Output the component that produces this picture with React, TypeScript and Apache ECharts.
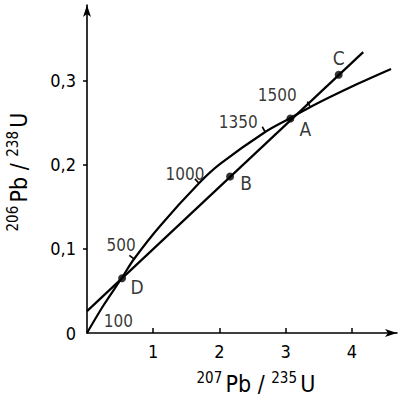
import React, { useEffect, useRef } from "react";
import * as echarts from "echarts";

// ---- data ----
const xTicks = [1, 2, 3, 4];
const yTicks = [0.1, 0.2, 0.3];
const yLabelValues = [0, 0.1, 0.2, 0.3];

// concordia curve (207Pb/235U, 206Pb/238U)
const concordia: number[][] = [
  [0, 0],
  [0.25, 0.033],
  [0.53, 0.066],
  [0.71, 0.088],
  [1.1, 0.127],
  [1.69, 0.178],
  [2.01, 0.201],
  [2.69, 0.239],
  [3.08, 0.256],
  [3.4, 0.27],
  [4.08, 0.296],
  [4.59, 0.314],
];

// discordia line end points
const discordia: number[][] = [
  [0, 0.026],
  [4.17, 0.334],
];

// sample points
const pointNames = ["D", "B", "A", "C"];
const pointX = [0.53, 2.16, 3.07, 3.8];
const pointY = [0.065, 0.186, 0.255, 0.307];

// age marks on the concordia (Ma)
const ageNames = ["100", "500", "1000", "1350", "1500"];
const ageX = [0.11, 0.71, 1.69, 2.69, 3.37];
const ageY = [0.014, 0.088, 0.178, 0.239, 0.269];
const ageHasTick = [false, true, true, true, true];

const FONT = '"Liberation Sans Narrow", "DejaVu Sans Condensed", "Roboto", sans-serif';
const INK = "#000";

// label offsets from the top of the mark
const pointLabelOffset: Record<string, number[]> = {
  D: [15, 13],
  B: [16, 10],
  A: [15, 14],
  C: [0, -13],
};
const ageLabelOffset: Record<string, number[]> = {
  "100": [24, 0],
  "500": [-13, -14],
  "1000": [-14, -9],
  "1350": [-27, -10],
  "1500": [-33, -12],
};

export default function App() {
  const ref = useRef<HTMLDivElement>(null);
  useEffect(() => {
    if (!ref.current) return;
    const chart = echarts.init(ref.current, undefined, { renderer: "svg" });

    const supRich = {
      s: { fontSize: 15, fontFamily: FONT, color: INK, verticalAlign: "top", lineHeight: 28 },
      m: { fontSize: 23, fontFamily: FONT, color: INK, lineHeight: 28 },
    };

    const labelBase = {
      show: true,
      position: "top",
      distance: 0,
      align: "center",
      verticalAlign: "middle",
      formatter: (p: any) => p.name,
      color: INK,
      fontFamily: FONT,
    };

    chart.setOption({
      animation: false,
      backgroundColor: "#fff",
      grid: { left: 87, right: 3, top: 5, bottom: 66 },
      xAxis: {
        type: "value",
        min: 0,
        max: 4.68,
        axisLine: {
          show: true,
          symbol: ["none", "arrow"],
          symbolSize: [6, 12],
          lineStyle: { color: INK, width: 1.6 },
        },
        axisTick: {
          show: true,
          inside: true,
          length: 5,
          customValues: xTicks,
          lineStyle: { color: INK, width: 1.5 },
        },
        axisLabel: {
          show: true,
          customValues: xTicks,
          margin: 9,
          color: INK,
          fontSize: 18,
          fontFamily: FONT,
          formatter: (v: number) => String(v),
        },
        splitLine: { show: false },
      },
      yAxis: {
        type: "value",
        min: 0,
        max: 0.39,
        axisLine: {
          show: true,
          symbol: ["none", "arrow"],
          symbolSize: [6, 12],
          lineStyle: { color: INK, width: 1.6 },
        },
        axisTick: {
          show: true,
          inside: false,
          length: 4,
          customValues: yTicks,
          lineStyle: { color: INK, width: 1.5 },
        },
        axisLabel: {
          show: true,
          customValues: yLabelValues,
          margin: 11,
          color: INK,
          fontSize: 18,
          fontFamily: FONT,
          formatter: (v: number) => (v === 0 ? "0" : v.toFixed(1).replace(".", ",")),
        },
        splitLine: { show: false },
      },
      graphic: [
        {
          type: "text",
          x: 256,
          y: 384,
          style: {
            text: "{s|207} {m|Pb / }{s|235} {m|U}",
            rich: supRich,
            align: "center",
            verticalAlign: "middle",
          },
        },
        {
          type: "text",
          x: 19,
          y: 172,
          rotation: Math.PI / 2,
          style: {
            text: "{s|206} {m|Pb / }{s|238} {m|U}",
            rich: supRich,
            align: "center",
            verticalAlign: "middle",
          },
        },
      ],
      series: [
        {
          type: "line",
          data: concordia,
          smooth: 0.35,
          showSymbol: false,
          symbol: "none",
          lineStyle: { color: INK, width: 2.2 },
          z: 3,
        },
        {
          type: "line",
          data: discordia,
          showSymbol: false,
          symbol: "none",
          lineStyle: { color: INK, width: 2.2 },
          z: 3,
        },
        {
          type: "custom",
          data: ageX.map((x, i) => [x, ageY[i], ageHasTick[i] ? 1 : 0]),
          renderItem: (params: any, api: any) => {
            const x = api.value(0);
            const y = api.value(1);
            const show = api.value(2);
            if (!show) return null;
            const p = api.coord([x, y]);
            let i = concordia.findIndex((pt) => pt[0] > x);
            if (i < 1) i = 1;
            const a = api.coord(concordia[i - 1]);
            const b = api.coord(concordia[i]);
            let dx = b[0] - a[0];
            let dy = b[1] - a[1];
            const L = Math.hypot(dx, dy) || 1;
            dx /= L;
            dy /= L;
            const len = 6;
            return {
              type: "line",
              shape: { x1: p[0], y1: p[1], x2: p[0] + dy * len, y2: p[1] - dx * len },
              style: { stroke: INK, lineWidth: 1.6 },
            };
          },
          z: 4,
        },
        {
          type: "scatter",
          symbolSize: 0,
          data: ageNames.map((n, i) => ({
            name: n,
            value: [ageX[i], ageY[i]],
            label: { offset: ageLabelOffset[n] },
          })),
          label: { ...labelBase, fontSize: 17 },
          z: 5,
        },
        {
          type: "scatter",
          symbol: "circle",
          symbolSize: 8,
          itemStyle: { color: INK },
          data: pointNames.map((n, i) => ({
            name: n,
            value: [pointX[i], pointY[i]],
            label: { offset: pointLabelOffset[n] },
          })),
          label: { ...labelBase, fontSize: 19 },
          z: 6,
        },
      ],
    });
    return () => chart.dispose();
  }, []);
  return (
    <div
      ref={ref}
      style={{ position: "fixed", left: 0, top: 0, width: 400, height: 399, background: "#fff" }}
    />
  );
}
